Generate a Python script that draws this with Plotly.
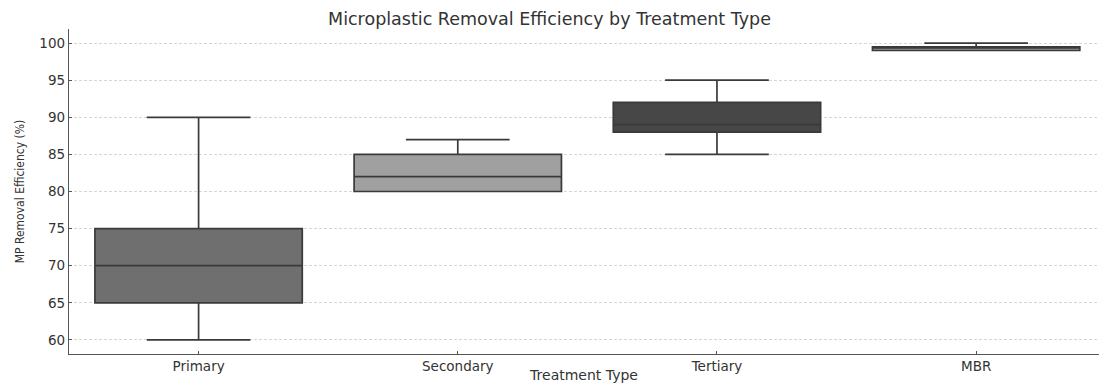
import plotly.graph_objects as go

categories = ["Primary", "Secondary", "Tertiary", "MBR"]
lower_whisker = [60, 80, 85, 99]
q1_values = [65, 80, 88, 99]
medians = [70, 82, 89, 99.5]
q3_values = [75, 85, 92, 99.5]
upper_whisker = [90, 87, 95, 100]
fill_colors = ["#6f6f6f", "#a0a0a0", "#474747", "#979797"]
y_ticks = [60, 65, 70, 75, 80, 85, 90, 95, 100]

fig = go.Figure()
for i, cat in enumerate(categories):
    fig.add_trace(go.Box(
        x=[cat],
        lowerfence=[lower_whisker[i]],
        q1=[q1_values[i]],
        median=[medians[i]],
        q3=[q3_values[i]],
        upperfence=[upper_whisker[i]],
        fillcolor=fill_colors[i],
        line=dict(color="#3a3a3a", width=1.7),
        whiskerwidth=0.5,
        width=0.8,
        boxpoints=False,
        showlegend=False,
        hoverinfo="skip",
    ))

fig.update_layout(
    width=1099, height=383,
    margin=dict(l=69, r=0, t=29, b=29, autoexpand=False),
    paper_bgcolor="white", plot_bgcolor="white",
    font=dict(family="DejaVu Sans", color="#333333", size=13),
    title=dict(text="Microplastic Removal Efficiency by Treatment Type",
               x=0.5, xanchor="center", y=0.95, yanchor="middle",
               font=dict(size=17.5, color="#333333", family="DejaVu Sans")),
    showlegend=False,
)
fig.update_xaxes(
    type="category", range=[-0.5, 3.474], automargin=False,
    showline=True, linecolor="#555555", linewidth=1.3,
    ticks="inside", ticklen=3, tickcolor="#555555",
    showgrid=False, zeroline=False,
    tickfont=dict(size=13.5, color="#333333"),
    title=dict(text="Treatment Type", standoff=0, font=dict(size=14, color="#333333")),
)
fig.update_yaxes(
    range=[58.1, 101.9], tickvals=y_ticks, automargin=False,
    showline=True, linecolor="#555555", linewidth=1.3,
    ticks="inside", ticklen=3, tickcolor="#555555",
    showgrid=True, gridcolor="#d6d6d6", griddash="3px,2px", gridwidth=0.8,
    zeroline=False,
    tickfont=dict(size=13.5, color="#333333"),
    title=dict(text="MP Removal Efficiency (%)", standoff=12,
               font=dict(size=12, family="Liberation Sans Narrow, DejaVu Sans Condensed, DejaVu Sans", color="#333333")),
)

fig.write_html("out.html", config={"displayModeBar": False},
               post_script="document.body.style.margin='0';document.body.style.overflow='hidden';")
